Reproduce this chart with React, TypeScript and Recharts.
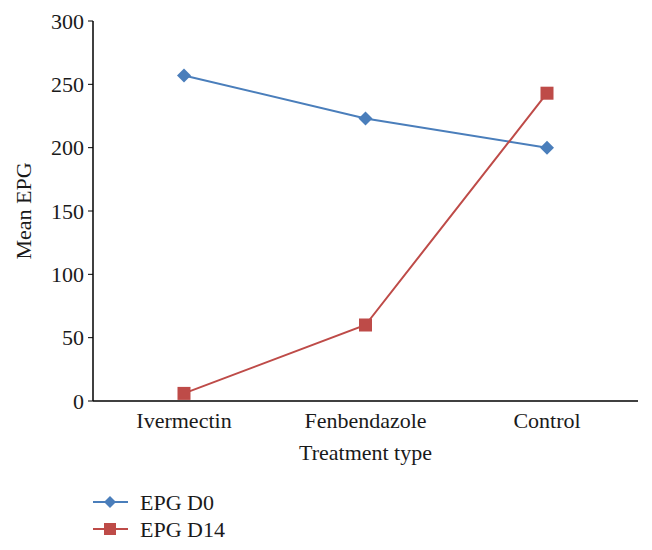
import React from 'react';
import { LineChart, Line, XAxis, YAxis, Legend } from 'recharts';

const categories = ['Ivermectin', 'Fenbendazole', 'Control'];
const epgD0 = [257, 223, 200];
const epgD14 = [6, 60, 243];
const yTicks = [0, 50, 100, 150, 200, 250, 300];

const data = categories.map((c, i) => ({ treatment: c, d0: epgD0[i], d14: epgD14[i] }));

const BLUE = '#4A7EBB';
const RED = '#BE4B48';
const FONT = '"Liberation Serif", "DejaVu Serif", serif';
const FS = 22;
const TXT = '#1a1a1a';

const Diamond = (props: any) => {
  const { cx, cy } = props;
  if (cx == null || cy == null) return null;
  const r = 7;
  return (
    <polygon
      key={`d-${cx}`}
      points={`${cx},${cy - r} ${cx + r},${cy} ${cx},${cy + r} ${cx - r},${cy}`}
      fill={BLUE}
    />
  );
};

const Square = (props: any) => {
  const { cx, cy } = props;
  if (cx == null || cy == null) return null;
  const s = 13;
  return <rect key={`s-${cx}`} x={cx - s / 2} y={cy - s / 2} width={s} height={s} fill={RED} />;
};

const LegendContent = () => (
  <svg width={200} height={60} style={{ overflow: 'visible' }}>
    <g>
      <line x1={0} y1={12} x2={35} y2={12} stroke={BLUE} strokeWidth={2} />
      <polygon points="17,6 23,12 17,18 11,12" fill={BLUE} />
      <text x={47} y={12} dy="0.35em" fontFamily={FONT} fontSize={FS} fill={TXT}>EPG D0</text>
    </g>
    <g>
      <line x1={0} y1={39} x2={35} y2={39} stroke={RED} strokeWidth={2} />
      <rect x={11} y={33} width={12} height={12} fill={RED} />
      <text x={47} y={39} dy="0.35em" fontFamily={FONT} fontSize={FS} fill={TXT}>EPG D14</text>
    </g>
  </svg>
);

export default function App() {
  return (
    <LineChart
      width={636}
      height={534}
      data={data}
      margin={{ top: 13, right: 6, bottom: 81, left: 0 }}
      style={{ fontFamily: FONT }}
    >
      <XAxis
        dataKey="treatment"
        padding={{ left: 91, right: 91 }}
        axisLine={{ stroke: '#000', strokeWidth: 1.5 }}
        tickLine={false}
        tick={{ fontSize: FS, fill: TXT, fontFamily: FONT }}
        tickMargin={5}
        height={60}
        label={{ value: 'Treatment type', position: 'insideBottom', offset: 1, fontSize: FS, fill: TXT, fontFamily: FONT }}
      />
      <YAxis
        domain={[0, 300]}
        ticks={yTicks}
        width={85}
        axisLine={{ stroke: '#000', strokeWidth: 1.5 }}
        tickLine={{ stroke: '#000' }}
        tickSize={5}
        tickMargin={4}
        tick={{ fontSize: FS, fill: TXT, fontFamily: FONT }}
        label={{ value: 'Mean EPG', angle: -90, position: 'insideLeft', offset: 15, style: { textAnchor: 'middle' }, fontSize: FS, fill: TXT, fontFamily: FONT }}
      />
      <Line dataKey="d0" name="EPG D0" stroke={BLUE} strokeWidth={2} dot={<Diamond />} isAnimationActive={false} />
      <Line dataKey="d14" name="EPG D14" stroke={RED} strokeWidth={2} dot={<Square />} isAnimationActive={false} />
      <Legend
        layout="vertical"
        align="center"
        verticalAlign="middle"
        content={<LegendContent />}
        wrapperStyle={{ left: 85, top: 482, width: 200, height: 60 }}
      />
    </LineChart>
  );
}
